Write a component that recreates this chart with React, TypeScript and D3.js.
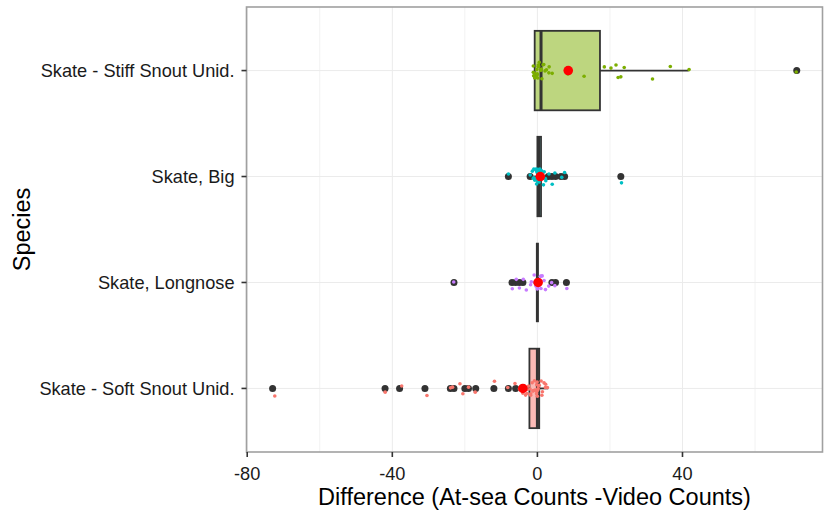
import React from "react";
import * as d3 from "d3";

// ---- data ----
const species = [
  "Skate - Stiff Snout Unid.",
  "Skate, Big",
  "Skate, Longnose",
  "Skate - Soft Snout Unid.",
];
const colors = ["#7CAE00", "#00BFC4", "#C77CFF", "#F8766D"];
const fills = ["#BDD67F", "#7FDFE1", "#E3BDFF", "#FBBAB6"];

// box stats: [whiskerLow, q1, median, q3, whiskerHigh]
const stiffBox = [-0.75, -0.75, 1, 17.25, 41.7];
const bigBox = [-1, 0, 0.3, 1, 2.5];
const longBox = [0, 0, 0, 0, 0];
const softBox = [-5, -2.2, 0, 0.5, 3];

const stiffOutliers = [71.5];
const bigOutliers = [-8, -2, 3, 4, 5, 6.5, 7.5, 23];
const longOutliers = [-23, -7, -6, -5, -4, 4, 5, 8];
const softOutliers = [-73, -42, -38, -31, -24, -23, -20, -19, -17, -12, -8, -6];

const stiffPoints = [-1, -1, -1, -1, -0.5, -0.5, 0, 0, 0, 0, 0, 0, 0.5, 0.5, 1, 1, 1, 1.5, 2, 2, 2.5, 3, 3.2, 4.3, 8.5, 13, 18.3, 20.2, 21.7, 22.3, 22.8, 24, 31.8, 36.8, 41.7, 71.5];
const bigPoints = [-8, -2, -1.5, -1, -1, -1, -0.5, -0.5, 0, 0, 0, 0, 0, 0, 0, 0, 0, 0, 0, 0, 0.5, 0.5, 0.5, 0.5, 1, 1, 1, 1, 1.5, 1.5, 2, 2, 2.5, 3, 4, 5, 6.5, 7.5, 23];
const longPoints = [-23, -7, -6, -5, -4, -3, -2, -1.5, -1, -1, -0.5, 0, 0, 0, 0, 0, 0, 0, 0, 0, 0.5, 0.5, 1, 1, 1, 1.5, 2, 2, 3, 4, 5, 8];
const softPoints = [-72.5, -42, -37.5, -30.5, -24, -23.5, -21.5, -20.5, -19, -17, -12, -8, -6, -5, -4, -3.5, -3, -3, -2.5, -2, -2, -2, -1.5, -1, -1, -1, -0.5, 0, 0, 0, 0, 0, 0, 0, 0, 0.5, 0.5, 1, 1, 1.5, 2, 2, 2.5, 3];

const means = [8.5, 0.8, 0.2, -4.0];

const xTicks = [-80, -40, 0, 40];
const xMinor = [-60, -20, 20, 60];

const boxes = [stiffBox, bigBox, longBox, softBox];
const outliers = [stiffOutliers, bigOutliers, longOutliers, softOutliers];
const points = [stiffPoints, bigPoints, longPoints, softPoints];

// ---- layout ----
const W = 825, H = 514;
const L = 246.5, R = 822.5, T = 7, B = 452;
const FONT = "Liberation Sans, Arial, sans-serif";

export default function App() {
  const x = d3.scaleLinear().domain([-80.2, 78.6]).range([L, R]);
  const step = (B - T) / 4.2;
  const y = d3.scalePoint<string>().domain(species).range([T + 0.6 * step, B - 0.6 * step]);
  const half = 0.375 * step;

  const rng = d3.randomLcg(0.4217);
  const jit = d3.randomUniform.source(rng)(-0.08 * step, 0.08 * step);
  const jitX = d3.randomUniform.source(rng)(-0.25, 0.25);

  const dark = "#333333";

  return (
    <svg width={W} height={H} style={{ position: "absolute", left: 0, top: 0, background: "#fff" }} fontFamily={FONT}>
      <rect x={0} y={0} width={W} height={H} fill="#fff" />
      {/* grid */}
      {xMinor.map((t) => (
        <line key={"mi" + t} x1={x(t)} x2={x(t)} y1={T} y2={B} stroke="#F2F2F2" strokeWidth={1} />
      ))}
      {xTicks.map((t) => (
        <line key={"ma" + t} x1={x(t)} x2={x(t)} y1={T} y2={B} stroke="#EBEBEB" strokeWidth={1} />
      ))}
      {species.map((s) => (
        <line key={"hg" + s} x1={L} x2={R} y1={y(s)} y2={y(s)} stroke="#EBEBEB" strokeWidth={1} />
      ))}

      {/* boxplots */}
      {species.map((s, i) => {
        const [wl, q1, md, q3, wh] = boxes[i];
        const cy = y(s)!;
        return (
          <g key={"b" + s}>
            <line x1={x(wl)} x2={x(q1)} y1={cy} y2={cy} stroke={dark} strokeWidth={1.8} />
            <line x1={x(q3)} x2={x(wh)} y1={cy} y2={cy} stroke={dark} strokeWidth={1.8} />
            <rect x={x(q1)} y={cy - half} width={Math.max(0, x(q3) - x(q1))} height={2 * half}
              fill={fills[i]} stroke={dark} strokeWidth={1.8} />
            <line x1={x(md)} x2={x(md)} y1={cy - half} y2={cy + half} stroke={dark} strokeWidth={3} />
            {outliers[i].map((v, k) => (
              <circle key={k} cx={x(v)} cy={cy} r={3.5} fill={dark} />
            ))}
          </g>
        );
      })}

      {/* jittered points */}
      {species.map((s, i) => (
        <g key={"p" + s}>
          {points[i].map((v, k) => (
            <circle key={k} cx={x(v + jitX())} cy={y(s)! + jit()} r={1.8} fill={colors[i]} />
          ))}
        </g>
      ))}

      {/* means */}
      {species.map((s, i) => (
        <circle key={"m" + s} cx={x(means[i])} cy={y(s)} r={4.8} fill="#FF0000" />
      ))}

      {/* panel border */}
      <rect x={L} y={T} width={R - L} height={B - T} fill="none" stroke="#A0A0A0" strokeWidth={1.6} />

      {/* x axis */}
      {xTicks.map((t) => (
        <g key={"xt" + t}>
          <line x1={x(t)} x2={x(t)} y1={B} y2={B + 5} stroke={dark} strokeWidth={1.6} />
          <text x={x(t)} y={479.5} textAnchor="middle" fontSize={18.2} fill="#1a1a1a">{t}</text>
        </g>
      ))}
      <text x={(L + R) / 2} y={505} textAnchor="middle" fontSize={23.5} fill="#000">
        Difference (At-sea Counts -Video Counts)
      </text>

      {/* y axis */}
      {species.map((s) => (
        <g key={"yt" + s}>
          <line x1={L - 5} x2={L} y1={y(s)} y2={y(s)} stroke={dark} strokeWidth={1.6} />
          <text x={234.5} y={y(s)! + 6.4} textAnchor="end" fontSize={18.2} fill="#1a1a1a">{s}</text>
        </g>
      ))}
      <text transform={`translate(29.5, ${(T + B) / 2}) rotate(-90)`} textAnchor="middle" fontSize={23.5} fill="#000">
        Species
      </text>
    </svg>
  );
}
